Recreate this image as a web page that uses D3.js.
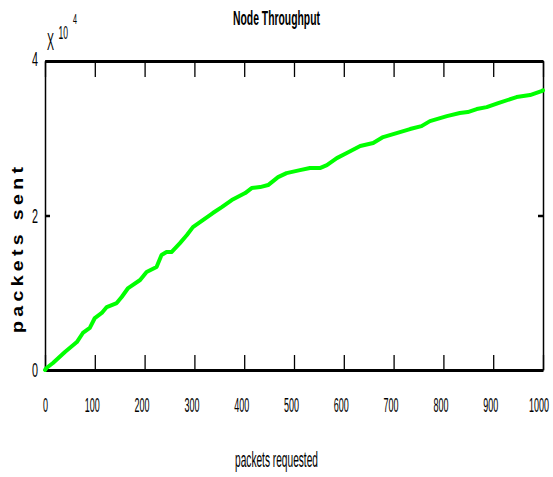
<!DOCTYPE html>
<html>
<head>
<meta charset="utf-8">
<script src="https://cdn.jsdelivr.net/npm/d3@7"></script>
<style>
  html, body { margin: 0; padding: 0; background: #fff; }
  svg { display: block; }
  text { font-family: "Liberation Sans", Arial, Helvetica, sans-serif; fill: #000; }
</style>
</head>
<body>
<svg id="chart" width="553" height="477"></svg>
<script>
// Cumulative packets sent versus packets requested
const requested = [0, 3, 16, 40, 64, 76, 90, 100, 114, 124, 144, 154, 167, 191, 204, 224, 234, 244, 254,
  271, 285, 297, 317, 337, 355, 375, 402, 415, 432, 448, 468, 485, 512, 532, 552, 566, 586, 606,
  633, 659, 679, 706, 733, 756, 773, 807, 833, 849, 867, 887, 910, 947, 974, 997, 1000];
const sent = [0, 260, 906, 2330, 3620, 4790, 5440, 6730, 7380, 8150, 8670, 9450, 10610, 11650, 12680,
  13330, 14880, 15270, 15270, 16430, 17470, 18500, 19410, 20320, 21090, 22000, 22900, 23550, 23680,
  23940, 24970, 25490, 25880, 26140, 26140, 26530, 27430, 28080, 28990, 29380, 30150, 30670, 31190,
  31570, 32220, 32870, 33260, 33390, 33780, 34030, 34550, 35330, 35590, 36100, 36200];

const xTicks = [0, 100, 200, 300, 400, 500, 600, 700, 800, 900, 1000];
const yTicks = [0, 20000, 40000];
const yTickLabels = ["0", "2", "4"];

const chartTitle = "Node Throughput";
const xTitle = "packets requested";
const yTitle = "packets sent";

const svg = d3.select("#chart");
const plotLeft = 45, plotRight = 543, plotTop = 61, plotBottom = 370;

const x = d3.scaleLinear().domain([0, 1000]).range([plotLeft, plotRight]);
const y = d3.scaleLinear().domain([0, 40000]).range([plotBottom, plotTop]);

// Squeeze a text horizontally so it spans `width` pixels, placed at (tx, ty)
function condense(node, width, tx, ty, extra = "") {
  const t = d3.select(node).attr("x", 0).attr("y", 0).attr("dy", null);
  const natural = node.getComputedTextLength();
  t.attr("transform", `translate(${tx},${ty}) ${extra} scale(${width / natural},1)`);
}

// Bottom axis with inward ticks and labels
const gx = svg.append("g").attr("transform", `translate(0,${plotBottom})`)
  .call(d3.axisBottom(x).tickValues(xTicks).tickSizeInner(-15).tickSizeOuter(0).tickFormat(d3.format("d")));
svg.selectAll("g").attr("font-family", null);
gx.select(".domain").attr("stroke", "#000").attr("stroke-width", 3);
gx.selectAll(".tick line").attr("stroke", "#000").attr("stroke-width", 1.3);
gx.selectAll(".tick text")
  .attr("font-size", 21)
  .each(function (d) {
    const n = String(d).length;
    condense(this, n * 5, -1.5 * (n - 1), 42);
  });

// Top axis: ticks only
const gxt = svg.append("g").attr("transform", `translate(0,${plotTop})`)
  .call(d3.axisTop(x).tickValues(xTicks).tickSizeInner(-16).tickSizeOuter(0).tickFormat(""));
gxt.select(".domain").attr("stroke", "#000").attr("stroke-width", 3);
gxt.selectAll(".tick line").attr("stroke", "#000").attr("stroke-width", 1.3);

// Left axis with labels
const gy = svg.append("g").attr("transform", `translate(${plotLeft},0)`)
  .call(d3.axisLeft(y).tickValues(yTicks).tickSizeInner(-5).tickSizeOuter(0)
    .tickFormat((d, i) => yTickLabels[i]));
gy.attr("font-family", null);
gy.select(".domain").attr("stroke", "#000").attr("stroke-width", 1.5);
gy.selectAll(".tick line").attr("stroke", "#000").attr("stroke-width", 2.5);
gy.selectAll(".tick text")
  .attr("font-size", 20)
  .each(function (d, i) {
    condense(this, 6, -7, [6, 6.5, 4][i]);
  });

// Right axis: ticks only
const gyr = svg.append("g").attr("transform", `translate(${plotRight},0)`)
  .call(d3.axisRight(y).tickValues(yTicks).tickSizeInner(-5).tickSizeOuter(0).tickFormat(""));
gyr.select(".domain").attr("stroke", "#000").attr("stroke-width", 1.5);
gyr.selectAll(".tick line").attr("stroke", "#000").attr("stroke-width", 2.5);

// Throughput curve
const line = d3.line().x((d, i) => x(requested[i])).y(d => y(d));
svg.append("path")
  .datum(sent)
  .attr("d", line)
  .attr("fill", "none")
  .attr("stroke", "#00ff00")
  .attr("stroke-width", 4)
  .attr("stroke-linejoin", "round")
  .attr("stroke-linecap", "round");

// Exponent marker for the y axis
const expX = svg.append("text").attr("font-size", 24).text("X");
condense(expX.node(), 7, 47, 50);
const expTen = svg.append("text").attr("font-size", 19).text("10");
condense(expTen.node(), 9.5, 58.5, 39);
const expPow = svg.append("text").attr("font-size", 15).text("4");
condense(expPow.node(), 4, 73, 24);

// Title
const title = svg.append("text").attr("font-size", 21).attr("font-weight", "bold")
  .attr("text-anchor", "middle").text(chartTitle);
condense(title.node(), 87, 276.5, 25);

// X axis title
const xLabel = svg.append("text").attr("font-size", 22)
  .attr("text-anchor", "middle").text(xTitle);
condense(xLabel.node(), 83, 276.5, 467);

// Y axis title (rotated, widened with letter spacing)
svg.append("text")
  .attr("transform", "translate(23,250) rotate(-90) scale(1.15,1)")
  .attr("x", 0).attr("y", 0).attr("text-anchor", "middle")
  .attr("font-size", 17).attr("font-weight", "bold")
  .attr("textLength", 166 / 1.15).attr("lengthAdjust", "spacing")
  .text(yTitle);
</script>
</body>
</html>
